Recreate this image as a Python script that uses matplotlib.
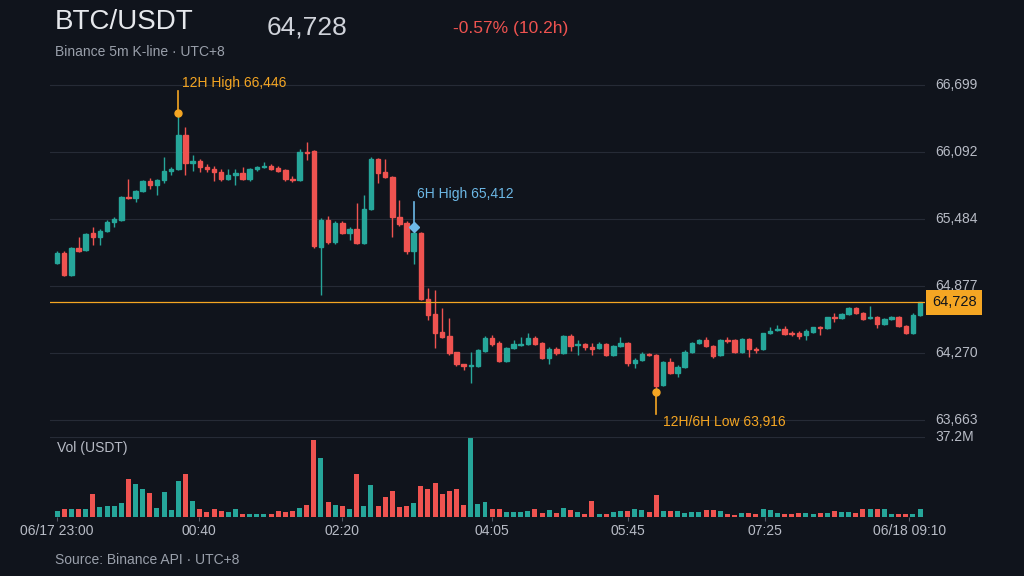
import matplotlib
matplotlib.use("Agg")
import matplotlib.pyplot as plt
from matplotlib.patches import Rectangle
import numpy as np
plt.rcParams['font.family'] = ['Liberation Sans', 'DejaVu Sans']

opens = [65085,65176,64977,65221,65203,65357,65321,65375,65457,65475,65684,65675,65738,65829,65792,65838,65919,65937,66246,65992,
66010,65955,65937,65910,65847,65883,65901,65847,65937,65955,65965,65946,65928,65847,65838,66091,66100,65230,65475,65276,
65448,65357,65394,65267,65575,66028,65910,65865,65502,65448,65194,65357,64759,64623,64460,64424,64279,64170,64152,64152,
64288,64406,64360,64197,64315,64342,64351,64406,64360,64224,64306,64270,64424,64342,64351,64324,64315,64351,64252,64333,
64360,64179,64206,64261,64252,63980,64188,64089,64143,64279,64360,64388,64333,64252,64388,64388,64279,64397,64306,64306,
64451,64478,64487,64451,64451,64433,64460,64505,64496,64596,64587,64623,64678,64632,64587,64596,64533,64578,64596,64514,
64451,64614]
closes = [65176,64977,65221,65194,65348,65321,65375,65457,65484,65684,65675,65738,65829,65792,65838,65919,65937,66246,65992,66010,
65955,65937,65910,65847,65883,65901,65847,65937,65955,65965,65937,65919,65847,65838,66091,66082,65240,65475,65276,65448,
65357,65394,65267,65575,66028,65901,65865,65502,65439,65194,65357,64759,64614,64451,64415,64270,64170,64152,64161,64297,
64406,64351,64197,64315,64351,64351,64406,64351,64224,64306,64270,64424,64333,64351,64324,64306,64351,64252,64333,64360,
64179,64206,64261,64252,63971,64188,64089,64143,64279,64360,64388,64333,64243,64388,64379,64279,64397,64306,64297,64451,
64469,64487,64442,64442,64424,64469,64505,64496,64596,64587,64623,64678,64632,64578,64596,64533,64578,64596,64514,64451,
64614,64728]
highs = [65194,65194,65230,65321,65357,65412,65394,65475,65502,65693,65847,65747,65838,65856,65847,66046,65955,66446,66318,66064,
66028,65983,65965,65937,65937,65937,65955,65946,65965,66001,65983,65965,65937,65874,66118,66182,66110,65493,65511,65466,
65466,65412,65629,65702,66046,66037,66028,65874,65656,65466,65412,65366,64859,64841,64678,64587,64279,64170,64279,64306,
64424,64433,64379,64324,64388,64415,64451,64424,64370,64324,64324,64433,64442,64388,64360,64360,64370,64360,64342,64415,
64370,64224,64279,64270,64261,64197,64224,64161,64297,64370,64397,64415,64342,64397,64415,64397,64406,64406,64324,64451,
64505,64524,64514,64469,64469,64487,64505,64514,64596,64632,64632,64687,64687,64641,64696,64605,64587,64605,64605,64524,
64632,64732]
lows = [65076,64968,64968,65185,65194,65249,65249,65366,65412,65466,65666,65638,65729,65756,65702,65810,65883,65928,65883,65919,
65910,65910,65829,65829,65838,65792,65838,65829,65919,65946,65928,65910,65829,65820,65829,66019,65221,64795,65258,65258,
65348,65294,65258,65258,65566,65810,65856,65321,65421,65167,65076,64750,64569,64315,64406,64252,64152,64116,63998,64143,
64279,64333,64188,64188,64306,64333,64342,64342,64215,64170,64252,64261,64288,64252,64297,64252,64306,64243,64243,64324,
64152,64134,64197,64243,63916,63971,64080,64052,64134,64270,64351,64324,64224,64243,64360,64270,64270,64234,64270,64297,
64442,64469,64433,64424,64397,64388,64451,64433,64487,64551,64578,64614,64623,64569,64578,64496,64524,64569,64505,64442,
64442,64605]
volumes_m = [2.8,3.5,3.9,3.5,3.5,10.5,4.7,5.3,5.3,6.3,17.6,15.4,13.2,11.1,4.1,11.6,3.1,16.6,19.8,7.4,
3.8,2.4,3.5,2.7,2.2,3.8,1.6,1.6,1.3,1.6,1.6,2.7,2.2,2.7,4.4,5.5,35.8,27.6,6.8,5.7,
5.0,3.5,19.8,5.0,15.1,5.0,9.1,12.2,4.7,5.3,6.3,14.4,12.9,15.7,10.7,12.2,12.9,5.7,36.9,6.0,
6.9,3.5,3.5,2.2,2.2,2.2,2.8,3.5,1.9,3.1,1.9,4.1,3.1,2.2,1.6,7.5,1.6,1.6,2.2,2.8,
2.8,3.8,3.1,2.5,10.4,2.8,2.8,2.8,1.9,2.2,2.2,3.1,3.1,2.8,1.3,0.9,1.9,1.9,1.3,3.5,
3.1,1.9,1.3,1.6,1.9,1.9,1.6,1.9,1.9,2.8,2.5,2.5,1.9,3.5,3.5,3.8,3.8,1.3,1.6,1.6,
1.6,3.5]
price_ticks = [63663, 64270, 64877, 65484, 66092, 66699]
tick_pos = [0, 19.9, 40, 61, 80.1, 99.3, 119.5]
tick_labels = ["06/17 23:00", "00:40", "02:20", "04:05", "05:45", "07:25", "06/18 09:10"]
last_price = 64728
high12 = (17, 66446); high6 = (50, 65412); low = (84, 63916)

BG = "#10141c"; GREEN = "#26a69a"; RED = "#ef5350"; GRID = "#262b36"
ORANGE = "#f5a623"; BLUE = "#6cb8e6"; TXT = "#b8bcc6"

fig = plt.figure(figsize=(10.24, 5.76), dpi=100, facecolor=BG)
W, H = 1024, 576
def ax_at(x0, y0, x1, y1):
    return fig.add_axes([x0/W, 1-y1/H, (x1-x0)/W, (y1-y0)/H])
axp = ax_at(50, 75, 925, 428)
axv = ax_at(50, 437, 925, 517)
n = len(opens)
xs = np.arange(n)
for ax in (axp, axv):
    ax.set_facecolor(BG)
    for s in ax.spines.values():
        s.set_visible(False)
    ax.set_xlim(-1, 121.7)

axp.set_ylim(63590, 66790)
for t in price_ticks:
    axp.axhline(t, color=GRID, lw=0.8, zorder=0)
    axp.text(1.012, t, f"{t:,}", transform=axp.get_yaxis_transform(), color=TXT, fontsize=10, va="center", ha="left")
axp.set_xticks([]); axp.set_yticks([])
w = 0.62
for i in xs:
    o, c, h, l = opens[i], closes[i], highs[i], lows[i]
    col = GREEN if c >= o else RED
    axp.vlines(i, l, h, color=col, lw=1, zorder=2)
    axp.add_patch(Rectangle((i-w/2, min(o, c)), w, max(abs(c-o), 6), color=col, zorder=3))

axp.axhline(last_price, color=ORANGE, lw=0.9, zorder=4)
axp.text(1.008, last_price, f"{last_price:,}", transform=axp.get_yaxis_transform(), color="#10141c",
         fontsize=10.5, va="center", ha="left", bbox=dict(boxstyle="square,pad=0.4", fc=ORANGE, ec="none"))
axp.plot([high12[0]]*2, [high12[1], high12[1]+200], color=ORANGE, lw=1.2, zorder=5)
axp.plot(high12[0], high12[1], "o", color=ORANGE, ms=5, zorder=6)
axp.text(high12[0]+0.5, high12[1]+270, f"12H High {high12[1]:,}", color=ORANGE, fontsize=10, va="center")
axp.plot([high6[0]]*2, [high6[1], high6[1]+230], color=BLUE, lw=1.2, zorder=5)
axp.plot(high6[0], high6[1], "D", color=BLUE, ms=5, zorder=6)
axp.text(high6[0]+0.5, high6[1]+300, f"6H High {high6[1]:,}", color=BLUE, fontsize=10, va="center")
axp.plot([low[0]]*2, [low[1], low[1]-200], color=ORANGE, lw=1.2, zorder=5)
axp.plot(low[0], low[1], "o", color=ORANGE, ms=5, zorder=6)
axp.text(low[0]+0.9, low[1]-270, f"12H/6H Low {low[1]:,}", color=ORANGE, fontsize=10, va="center")

vcols = [GREEN if closes[i] >= opens[i] else RED for i in xs]
axv.bar(xs, volumes_m, width=0.7, color=vcols)
axv.set_ylim(0, 37.2)
axv.axhline(37.2, color=GRID, lw=0.8)
axv.text(1.012, 37.2, "37.2M", transform=axv.get_yaxis_transform(), color=TXT, fontsize=10, va="center")
axv.text(0.008, 0.86, "Vol (USDT)", transform=axv.transAxes, color=TXT, fontsize=10, va="center")
axv.set_yticks([])
axv.set_xticks(tick_pos)
axv.set_xticklabels(tick_labels, color=TXT, fontsize=10)
axv.tick_params(axis="x", length=3, color="#555a66", pad=2)

fig.text(55/W, 1-22/H, "BTC/USDT", color="#e6e8ec", fontsize=20, va="center")
fig.text(267/W, 1-27/H, "64,728", color="#d0d3da", fontsize=19, va="center")
fig.text(453/W, 1-29/H, "-0.57% (10.2h)", color=RED, fontsize=12.5, va="center")
fig.text(55/W, 1-52/H, "Binance 5m K-line · UTC+8", color="#9aa0ab", fontsize=10, va="center")
fig.text(55/W, 1-560/H, "Source: Binance API · UTC+8", color="#9aa0ab", fontsize=10, va="center")
fig.savefig("out.png", dpi=100, facecolor=BG)
